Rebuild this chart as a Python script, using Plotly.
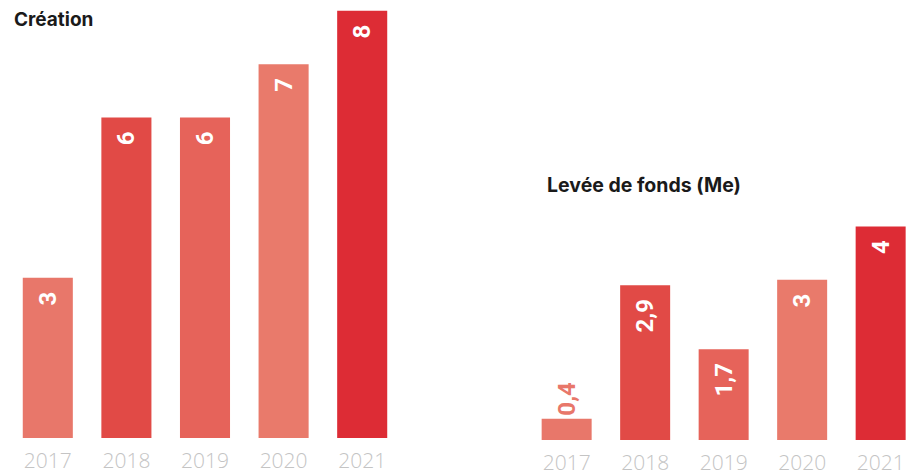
import plotly.graph_objects as go

years = ["2017", "2018", "2019", "2020", "2021"]
creation = [3, 6, 6, 7, 8]
creation_labels = ["3", "6", "6", "7", "8"]
levee = [0.4, 2.9, 1.7, 3, 4]
levee_labels = ["0,4", "2,9", "1,7", "3", "4"]
colors = ["#E8776A", "#E14A46", "#E6635A", "#E97A6B", "#DD2C35"]

W, H = 906, 475
PX_PER_UNIT = 53.4
STEP = 78.5
PAD = "\u00a0\u2009"
LABEL_FONT = "Liberation Sans Narrow, Roboto, sans-serif"

fig = go.Figure()
fig.add_trace(go.Bar(
    x=years, y=creation, marker=dict(color=colors, line=dict(width=0)),
    text=[t + PAD for t in creation_labels], textposition="inside",
    insidetextanchor="end", textangle=-90,
    textfont=dict(color="white", size=24, family=LABEL_FONT, weight=700),
    constraintext="none", xaxis="x", yaxis="y", hoverinfo="skip", showlegend=False,
))
fig.add_trace(go.Bar(
    x=years, y=levee, marker=dict(color=colors, line=dict(width=0)),
    text=[levee_labels[0]] + [t + PAD for t in levee_labels[1:]],
    textposition=["outside", "inside", "inside", "inside", "inside"],
    insidetextanchor="end", textangle=-90,
    textfont=dict(color=["#E8776A", "white", "white", "white", "white"], size=24,
                  family=LABEL_FONT, weight=700),
    constraintext="none", cliponaxis=False, xaxis="x2", yaxis="y2",
    hoverinfo="skip", showlegend=False,
))

bottom = 440
plot_h = bottom
x_left0, x_left1 = 8.5, 401.5
x_right0 = 527.4
left_dom0 = 2 / plot_h

tickfont = dict(family="Open Sans", size=21, color="#C4C4C4", weight=300)
fig.update_layout(
    width=W, height=H, margin=dict(l=0, r=0, t=0, b=H - bottom),
    paper_bgcolor="white", plot_bgcolor="white", bargap=0.363,
    xaxis=dict(domain=[x_left0 / W, x_left1 / W], range=[-0.5, 4.5], type="category",
               showgrid=False, zeroline=False, showline=False, ticks="",
               tickfont=tickfont, ticklabelstandoff=8, ticklabeloverflow="allow",
               fixedrange=True),
    xaxis2=dict(domain=[x_right0 / W, 1], range=[-0.5, -0.5 + (W - x_right0) / STEP],
                type="category", showgrid=False, zeroline=False, showline=False,
                ticks="", tickfont=tickfont, ticklabelstandoff=8,
                ticklabeloverflow="allow", anchor="y2", fixedrange=True),
    yaxis=dict(domain=[left_dom0, 1], range=[0, (plot_h - 2) / PX_PER_UNIT],
               visible=False, fixedrange=True),
    yaxis2=dict(domain=[0, 1], range=[0, plot_h / PX_PER_UNIT], visible=False,
                anchor="x2", fixedrange=True),
    annotations=[
        dict(text="<b>Création</b>", x=12 / W, y=20, xref="paper",
             yref="paper", xanchor="left", yanchor="middle", showarrow=False,
             font=dict(family="Inter", size=19, color="#1a1a1a")),
        dict(text="<b>Levée de fonds (Me)</b>", x=545 / W, y=185,
             xref="paper", yref="paper", xanchor="left", yanchor="middle",
             showarrow=False, font=dict(family="Inter", size=19.5, color="#1a1a1a")),
    ],
)
for a in fig.layout.annotations:
    a.y = 1 - a.y / plot_h

fig.write_html(
    "out.html",
    config={"displayModeBar": False},
    post_script="document.body.style.margin='0';document.body.style.overflow='hidden';",
)
